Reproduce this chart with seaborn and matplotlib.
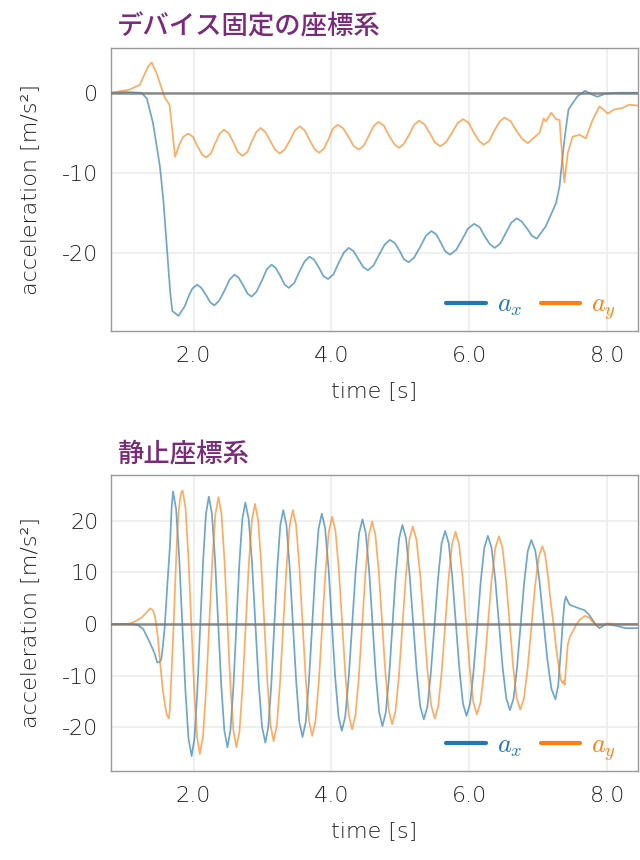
import pandas as pd
import seaborn as sns
import matplotlib.pyplot as plt
from matplotlib.lines import Line2D
from matplotlib.ticker import FormatStrFormatter

# ---------------------------------------------------
# Data (time [s], acceleration [m/s^2])
# ---------------------------------------------------

# device-fixed frame, a_x
dev_ax_t = [0.80, 1.00, 1.24, 1.32, 1.41, 1.51, 1.56, 1.61, 1.66, 1.69, 1.78, 1.87, 1.92, 1.98,
            2.05, 2.11, 2.18, 2.24, 2.30, 2.37, 2.45, 2.52, 2.59, 2.65, 2.72, 2.78, 2.84, 2.91,
            2.99, 3.06, 3.13, 3.19, 3.26, 3.32, 3.38, 3.46, 3.53, 3.61, 3.68, 3.75, 3.82, 3.88,
            3.95, 4.03, 4.10, 4.18, 4.25, 4.32, 4.39, 4.46, 4.53, 4.61, 4.69, 4.77, 4.85, 4.92,
            4.99, 5.05, 5.12, 5.20, 5.29, 5.37, 5.45, 5.52, 5.59, 5.65, 5.72, 5.81, 5.90, 5.98,
            6.07, 6.15, 6.22, 6.30, 6.37, 6.45, 6.53, 6.61, 6.69, 6.76, 6.84, 6.91, 6.98, 7.11,
            7.26, 7.31, 7.34, 7.37, 7.40, 7.44, 7.50, 7.57, 7.68, 7.79, 7.86, 7.98, 8.18, 8.44]
dev_ax_v = [0.0, 0.1, 0.0, -0.7, -3.8, -9.2, -13.4, -19.2, -25.0, -27.3, -27.9, -26.7, -25.6, -24.5,
            -24.0, -24.4, -25.3, -26.2, -26.6, -26.0, -24.7, -23.4, -22.75, -23.1, -24.1, -25.1, -25.5, -24.9,
            -23.5, -22.1, -21.5, -21.9, -22.95, -24.0, -24.4, -23.8, -22.45, -21.1, -20.5, -20.9, -21.9, -22.9,
            -23.3, -22.7, -21.35, -20.0, -19.4, -19.8, -20.8, -21.8, -22.2, -21.6, -20.3, -19.0, -18.4, -18.8,
            -19.8, -20.8, -21.2, -20.6, -19.25, -17.9, -17.3, -17.7, -18.8, -19.8, -20.25, -19.65, -18.3, -17.0,
            -16.4, -16.8, -17.9, -18.95, -19.4, -18.85, -17.55, -16.25, -15.7, -16.1, -17.0, -17.9, -18.25, -16.7,
            -13.8, -11.7, -9.2, -6.7, -4.6, -2.1, -1.3, -0.45, 0.25, -0.25, -0.5, -0.1, 0.0, 0.0]

# device-fixed frame, a_y
dev_ay_t = [0.80, 1.07, 1.22, 1.27, 1.34, 1.39, 1.46, 1.51, 1.58, 1.65, 1.73, 1.80, 1.85, 1.92,
            1.99, 2.05, 2.12, 2.18, 2.25, 2.31, 2.38, 2.44, 2.51, 2.58, 2.64, 2.71, 2.78, 2.84,
            2.91, 2.97, 3.04, 3.11, 3.18, 3.25, 3.32, 3.40, 3.47, 3.54, 3.61, 3.68, 3.75, 3.82,
            3.89, 3.96, 4.02, 4.09, 4.17, 4.25, 4.32, 4.40, 4.47, 4.54, 4.61, 4.68, 4.76, 4.83,
            4.91, 4.98, 5.05, 5.13, 5.20, 5.27, 5.35, 5.43, 5.50, 5.58, 5.66, 5.75, 5.83, 5.91,
            5.99, 6.06, 6.14, 6.21, 6.29, 6.36, 6.44, 6.51, 6.60, 6.68, 6.77, 6.85, 7.02, 7.08,
            7.11, 7.19, 7.26, 7.31, 7.33, 7.38, 7.43, 7.50, 7.60, 7.69, 7.79, 7.89, 8.01, 8.10,
            8.22, 8.32, 8.44]
dev_ay_v = [0.0, 0.4, 1.0, 2.0, 3.3, 3.8, 2.5, 1.2, -0.6, -1.5, -8.0, -6.3, -5.5, -5.1,
            -5.5, -6.6, -7.7, -8.1, -7.6, -6.35, -5.1, -4.6, -5.1, -6.25, -7.4, -7.9, -7.4, -6.15,
            -4.9, -4.4, -4.9, -6.0, -7.1, -7.6, -7.1, -5.9, -4.7, -4.2, -4.7, -5.85, -7.0, -7.5,
            -7.0, -5.75, -4.5, -4.0, -4.45, -5.55, -6.65, -7.1, -6.6, -5.4, -4.2, -3.65, -4.1, -5.3,
            -6.4, -6.9, -6.4, -5.2, -4.0, -3.5, -3.95, -5.1, -6.2, -6.7, -6.2, -5.0, -3.8, -3.3,
            -3.75, -4.9, -6.0, -6.5, -6.0, -4.8, -3.6, -3.1, -3.55, -4.7, -5.8, -6.3, -5.0, -3.2,
            -3.6, -2.5, -3.3, -3.4, -5.9, -11.2, -7.5, -5.5, -5.25, -5.7, -3.4, -1.7, -2.6, -2.1,
            -1.9, -1.5, -1.6]

# static frame, a_x
sta_ax_t = [0.80, 1.12, 1.20, 1.27, 1.37, 1.43, 1.47, 1.50, 1.53, 1.555, 1.58, 1.62, 1.655, 1.68, 1.70,
            1.745, 1.79, 1.835, 1.88, 1.925, 1.97,
            2.012, 2.053, 2.095, 2.137, 2.178, 2.22,
            2.265, 2.31, 2.355, 2.40, 2.445, 2.49,
            2.533, 2.577, 2.62, 2.663, 2.707, 2.75,
            2.798, 2.847, 2.895, 2.943, 2.992, 3.04,
            3.083, 3.127, 3.17, 3.213, 3.257, 3.30,
            3.347, 3.393, 3.44, 3.487, 3.533, 3.58,
            3.627, 3.673, 3.72, 3.767, 3.813, 3.86,
            3.908, 3.957, 4.005, 4.053, 4.102, 4.15,
            4.20, 4.25, 4.30, 4.35, 4.40, 4.45,
            4.498, 4.547, 4.595, 4.643, 4.692, 4.74,
            4.788, 4.837, 4.885, 4.933, 4.982, 5.03,
            5.082, 5.133, 5.185, 5.237, 5.288, 5.34,
            5.392, 5.443, 5.495, 5.547, 5.598, 5.65,
            5.702, 5.753, 5.805, 5.857, 5.908, 5.96,
            6.012, 6.063, 6.115, 6.167, 6.218, 6.27,
            6.323, 6.377, 6.43, 6.483, 6.537, 6.59,
            6.642, 6.693, 6.745, 6.797, 6.848, 6.90,
            6.958, 7.017, 7.075, 7.133, 7.192, 7.25,
            7.29, 7.33, 7.36, 7.38, 7.40, 7.43, 7.46, 7.52, 7.60, 7.67, 7.74, 7.79, 7.84, 7.89,
            7.95, 8.01, 8.15, 8.27, 8.44]
sta_ax_v = [0.0, 0.0, -0.3, -1.0, -3.75, -5.6, -7.45, -7.4, -6.9, -4.0, -0.5, 8.0, 15.0, 22.5, 25.7,
            22.3, 12.9, 0.05, -12.8, -22.2, -25.6,
            -22.2, -13.0, -0.45, 12.1, 21.3, 24.7,
            21.4, 12.55, 0.4, -11.75, -20.6, -23.9,
            -20.7, -12.1, -0.2, 11.7, 20.4, 23.55,
            20.4, 11.9, 0.3, -11.4, -19.9, -23.0,
            -20.0, -11.7, -0.45, 10.8, 19.1, 22.1,
            19.15, 11.1, 0.1, -10.9, -18.95, -21.9,
            -19.0, -11.05, -0.25, 10.55, 18.5, 21.4,
            18.55, 10.85, 0.35, -10.15, -17.85, -20.7,
            -17.95, -10.45, -0.2, 10.05, 17.55, 20.3,
            17.6, 10.25, 0.25, -9.75, -17.1, -19.8,
            -17.2, -10.05, -0.3, 9.45, 16.6, 19.2,
            16.65, 9.75, 0.35, -9.05, -15.95, -18.5,
            -16.05, -9.35, -0.2, 8.9, 15.6, 18.06,
            15.65, 9.1, 0.1, -8.8, -15.4, -17.8,
            -15.45, -9.05, -0.35, 8.35, 14.75, 17.1,
            14.8, 8.65, 0.2, -8.25, -14.4, -16.7,
            -14.5, -8.45, -0.2, 8.05, 14.1, 16.3,
            14.25, 8.55, 0.85, -6.85, -12.55, -14.6,
            -12.0, -5.0, 0.8, 4.0, 5.3, 4.4, 3.7, 3.4, 3.0, 2.7, 1.75, 0.8, -0.2, -0.8,
            -0.3, 0.0, -0.4, -0.8, -0.8]

# static frame, a_y
sta_ay_t = [0.80, 1.03, 1.10, 1.17, 1.24, 1.30, 1.37, 1.41, 1.44, 1.48, 1.51, 1.55, 1.58, 1.61,
            1.64, 1.655, 1.67, 1.69, 1.71, 1.735, 1.76, 1.78, 1.80, 1.82, 1.84,
            1.882, 1.923, 1.965, 2.007, 2.048, 2.09,
            2.135, 2.18, 2.225, 2.27, 2.315, 2.36,
            2.403, 2.447, 2.49, 2.533, 2.577, 2.62,
            2.665, 2.71, 2.755, 2.80, 2.845, 2.89,
            2.935, 2.98, 3.025, 3.07, 3.115, 3.16,
            3.207, 3.253, 3.30, 3.347, 3.393, 3.44,
            3.487, 3.533, 3.58, 3.627, 3.673, 3.72,
            3.768, 3.817, 3.865, 3.913, 3.962, 4.01,
            4.058, 4.107, 4.155, 4.203, 4.252, 4.30,
            4.348, 4.397, 4.445, 4.493, 4.542, 4.59,
            4.638, 4.687, 4.735, 4.783, 4.832, 4.88,
            4.93, 4.98, 5.03, 5.08, 5.13, 5.18,
            5.233, 5.287, 5.34, 5.393, 5.447, 5.50,
            5.55, 5.60, 5.65, 5.70, 5.75, 5.80,
            5.852, 5.903, 5.955, 6.007, 6.058, 6.11,
            6.163, 6.217, 6.27, 6.323, 6.377, 6.43,
            6.482, 6.533, 6.585, 6.637, 6.688, 6.74,
            6.793, 6.847, 6.90, 6.953, 7.007, 7.06,
            7.10, 7.14, 7.18, 7.22, 7.26, 7.30, 7.33, 7.355, 7.37, 7.385, 7.40, 7.43,
            7.46, 7.50, 7.55, 7.60, 7.68, 7.74, 7.79, 7.86, 7.93, 8.01, 8.20, 8.44]
sta_ay_v = [0.0, 0.0, 0.2, 0.65, 1.2, 2.0, 3.05, 2.6, 1.4, -2.5, -7.0, -12.5, -15.4, -17.6,
            -18.3, -16.5, -12.0, -6.0, 0.0, 9.0, 17.0, 21.5, 24.0, 25.5, 25.9,
            22.45, 13.15, 0.35, -12.45, -21.75, -25.2,
            -21.85, -12.75, -0.3, 12.15, 21.25, 24.6,
            21.35, 12.45, 0.35, -11.75, -20.65, -23.9,
            -20.75, -12.1, -0.3, 11.5, 20.15, 23.3,
            20.2, 11.8, 0.3, -11.2, -19.6, -22.7,
            -19.7, -11.5, -0.3, 10.9, 19.1, 22.1,
            19.15, 11.15, 0.2, -10.75, -18.75, -21.7,
            -18.85, -11.05, -0.45, 10.15, 17.95, 20.8,
            18.05, 10.5, 0.2, -10.1, -17.65, -20.4,
            -17.7, -10.35, -0.25, 9.85, 17.2, 19.9,
            17.25, 10.05, 0.25, -9.55, -16.75, -19.4,
            -16.85, -9.85, -0.25, 9.35, 16.35, 18.9,
            16.4, 9.6, 0.3, -9.0, -15.8, -18.3,
            -15.9, -9.25, -0.2, 8.85, 15.5, 17.9,
            15.5, 9.05, 0.2, -8.65, -15.1, -17.5,
            -15.2, -8.85, -0.25, 8.35, 14.7, 17.0,
            14.75, 8.6, 0.2, -8.2, -14.35, -16.6,
            -14.45, -8.65, -0.75, 7.15, 12.95, 15.1,
            13.5, 9.5, 4.5, 0.3, -4.5, -8.5, -10.9, -11.5, -11.0, -11.8, -9.0, -4.0,
            -2.5, -1.5, -0.2, 0.8, 1.6, 1.2, 0.45, -0.4, -0.1, 0.1, 0.0, 0.0]

titles = ["デバイス固定の座標系", "静止座標系"]
x_ticks = [2.0, 4.0, 6.0, 8.0]
series_labels = ["$a_x$", "$a_y$"]

# ---------------------------------------------------
# Style
# ---------------------------------------------------

sns.set_theme(style="whitegrid")
plt.rcParams["font.family"] = ["DejaVu Sans", "Noto Sans CJK JP"]
plt.rcParams["mathtext.fontset"] = "cm"
plt.rcParams["axes.unicode_minus"] = False

BLUE = "#1f77b4"
ORANGE = "#ff7f0e"
PURPLE = "#7b2a7b"
TEXT = "#222222"
LABEL_FONT = dict(family=["DejaVu Sans", "Noto Sans CJK JP"], weight=200, size=16)

fig = plt.figure(figsize=(6.4, 8.6), dpi=100)
ax_top = fig.add_axes([0.1734, 0.6151, 0.8236, 0.3291])
ax_bot = fig.add_axes([0.1734, 0.1035, 0.8236, 0.3442])

panels = [
    (ax_top, dev_ax_t, dev_ax_v, dev_ay_t, dev_ay_v, (-29.8, 5.6), [0, -10, -20]),
    (ax_bot, sta_ax_t, sta_ax_v, sta_ay_t, sta_ay_v, (-28.5, 28.9), [-20, -10, 0, 10, 20]),
]

for i, (ax, t1, v1, t2, v2, ylim, yt) in enumerate(panels):
    df = pd.concat([
        pd.DataFrame({"time": t1, "acc": v1, "comp": "ax"}),
        pd.DataFrame({"time": t2, "acc": v2, "comp": "ay"}),
    ])
    sns.lineplot(data=df, x="time", y="acc", hue="comp", palette=[BLUE, ORANGE],
                 estimator=None, sort=False, lw=1.25, alpha=0.65, legend=False, ax=ax)
    ax.axhline(0, color="#777777", lw=1.8, alpha=0.85, zorder=3)

    ax.set_xlim(0.8, 8.45)
    ax.set_ylim(*ylim)
    ax.set_xticks(x_ticks)
    ax.set_yticks(yt)
    ax.xaxis.set_major_formatter(FormatStrFormatter("%.1f"))
    ax.grid(True, color="#ececec", lw=1.2)
    for s in ax.spines.values():
        s.set_color("#999999")
        s.set_linewidth(1.0)
    ax.tick_params(axis="x", colors=TEXT, length=0, pad=11)
    ax.tick_params(axis="y", colors=TEXT, length=0, pad=9)
    for lab in ax.get_xticklabels() + ax.get_yticklabels():
        lab.set_fontproperties(LABEL_FONT)
        lab.set_color(TEXT)

    ax.set_xlabel("time [s]", fontdict=LABEL_FONT, color=TEXT, labelpad=11)
    ax.set_ylabel("acceleration [m/s²]", fontdict=LABEL_FONT, color=TEXT, labelpad=16)
    ax.set_title(titles[i], loc="left", x=0.012, fontsize=19, fontweight="medium", color=PURPLE,
                 pad=10, family=["Noto Sans CJK JP", "DejaVu Sans"])

    handles = [Line2D([], [], color=BLUE, lw=3), Line2D([], [], color=ORANGE, lw=3)]
    leg = ax.legend(handles, series_labels, loc="lower right", bbox_to_anchor=(0.979, -0.007),
                    ncol=2, frameon=False, fontsize=19, handlelength=1.5, columnspacing=0.7,
                    handletextpad=0.42, borderaxespad=0.0)
    for txt, c in zip(leg.get_texts(), [BLUE, ORANGE]):
        txt.set_color(c)

fig.savefig("out.png", dpi=100)
